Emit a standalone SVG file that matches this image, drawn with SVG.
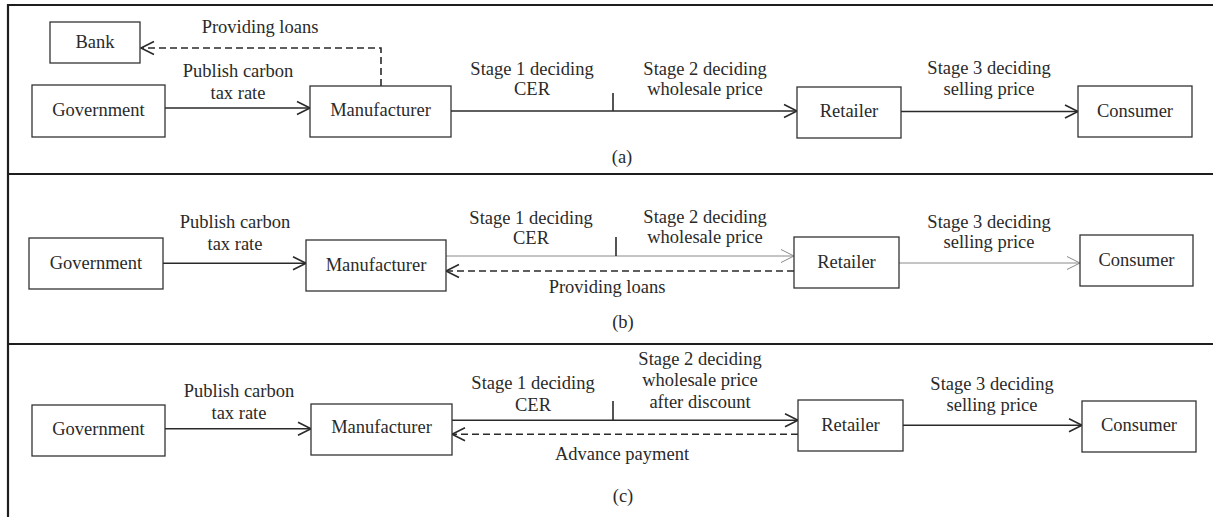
<svg xmlns="http://www.w3.org/2000/svg" width="1213" height="517" viewBox="0 0 1213 517">
<style>
text{font-family:"Liberation Serif","Times New Roman",serif;font-size:18.5px;fill:#2a2a2a;text-anchor:middle}
.box{fill:#fff;stroke:#333;stroke-width:1.3}
.frame{stroke:#1e1e1e;stroke-width:2.2;fill:none}
.arr{stroke:#2a2a2a;stroke-width:1.6;fill:none;marker-end:url(#ah)}
.thin{stroke:#8a8a8a;stroke-width:1;fill:none;marker-end:url(#aht)}
.dash{stroke:#2a2a2a;stroke-width:1.6;fill:none;stroke-dasharray:7 4;marker-end:url(#ah)}
.tick{stroke:#2a2a2a;stroke-width:1.6}
</style>
<defs>
<marker id="ah" markerUnits="userSpaceOnUse" markerWidth="16" markerHeight="16" refX="13" refY="7" orient="auto" overflow="visible">
<path d="M0,0.5 L13,7 L0,13.5" fill="none" stroke="#2a2a2a" stroke-width="1.6"/>
</marker>
<marker id="aht" markerUnits="userSpaceOnUse" markerWidth="16" markerHeight="16" refX="13" refY="7" orient="auto" overflow="visible">
<path d="M0,0.5 L13,7 L0,13.5" fill="none" stroke="#8a8a8a" stroke-width="1"/>
</marker>
</defs>
<g id="frame">
<line class="frame" x1="8" y1="5" x2="1213" y2="5"/>
<line class="frame" x1="8" y1="174" x2="1213" y2="174"/>
<line class="frame" x1="8" y1="344" x2="1213" y2="344"/>
<line class="frame" x1="8" y1="4" x2="8" y2="517"/>
</g>
<g id="connectors">
<!-- panel a -->
<line class="arr" x1="165" y1="108" x2="310" y2="108"/>
<line class="arr" x1="451" y1="111" x2="797" y2="111"/>
<line class="tick" x1="613" y1="93" x2="613" y2="111"/>
<line class="arr" x1="901" y1="111.5" x2="1078" y2="111.5"/>
<path class="dash" d="M381,86 V48 H141"/>
<!-- panel b -->
<line class="arr" x1="163" y1="263.3" x2="306" y2="263.3"/>
<line class="thin" x1="446" y1="256" x2="794" y2="256"/>
<line class="tick" x1="616" y1="237" x2="616" y2="256"/>
<line class="dash" x1="794" y1="271" x2="446" y2="271"/>
<line class="thin" x1="899" y1="263" x2="1080" y2="263"/>
<!-- panel c -->
<line class="arr" x1="165" y1="428.7" x2="311" y2="428.7"/>
<line class="arr" x1="452" y1="420.3" x2="798" y2="420.3"/>
<line class="tick" x1="613" y1="401" x2="613" y2="420.3"/>
<line class="dash" x1="798" y1="434.3" x2="452" y2="434.3"/>
<line class="arr" x1="903" y1="425.3" x2="1082" y2="425.3"/>
</g>
<g id="labels">
<text x="260" y="33">Providing loans</text>
<text x="238" y="77">Publish carbon</text>
<text x="238" y="99">tax rate</text>
<text x="532" y="75">Stage 1 deciding</text>
<text x="532" y="95">CER</text>
<text x="705" y="75">Stage 2 deciding</text>
<text x="705" y="95">wholesale price</text>
<text x="989" y="74">Stage 3 deciding</text>
<text x="989" y="94.5">selling price</text>
<text x="622" y="163">(a)</text>

<text x="235" y="228.3">Publish carbon</text>
<text x="235" y="250">tax rate</text>
<text x="531" y="224">Stage 1 deciding</text>
<text x="531" y="244">CER</text>
<text x="705" y="223">Stage 2 deciding</text>
<text x="705" y="243">wholesale price</text>
<text x="989" y="228">Stage 3 deciding</text>
<text x="989" y="248">selling price</text>
<text x="607" y="293">Providing loans</text>
<text x="623" y="328">(b)</text>

<text x="239" y="397">Publish carbon</text>
<text x="239" y="418.7">tax rate</text>
<text x="533" y="388.7">Stage 1 deciding</text>
<text x="533" y="410.5">CER</text>
<text x="700" y="365.3">Stage 2 deciding</text>
<text x="700" y="386.3">wholesale price</text>
<text x="700" y="408">after discount</text>
<text x="992" y="390">Stage 3 deciding</text>
<text x="992" y="411">selling price</text>
<text x="622" y="460">Advance payment</text>
<text x="623" y="502">(c)</text>
</g>
<g id="bank_a"><rect class="box" x="50" y="22" width="90" height="41"/><text x="95" y="48">Bank</text></g>
<g id="government_a"><rect class="box" x="32" y="85" width="133" height="52"/><text x="98.5" y="116">Government</text></g>
<g id="manufacturer_a"><rect class="box" x="310" y="86" width="141" height="51"/><text x="380.5" y="116">Manufacturer</text></g>
<g id="retailer_a"><rect class="box" x="797" y="87" width="104" height="51"/><text x="849" y="117">Retailer</text></g>
<g id="consumer_a"><rect class="box" x="1078" y="86" width="114" height="51"/><text x="1135" y="116.5">Consumer</text></g>

<g id="government_b"><rect class="box" x="29" y="238" width="134" height="51"/><text x="96" y="269">Government</text></g>
<g id="manufacturer_b"><rect class="box" x="306" y="240" width="140" height="51"/><text x="376" y="270.5">Manufacturer</text></g>
<g id="retailer_b"><rect class="box" x="794" y="237" width="105" height="51"/><text x="846.5" y="267.5">Retailer</text></g>
<g id="consumer_b"><rect class="box" x="1080" y="235" width="113" height="51"/><text x="1136.5" y="265.5">Consumer</text></g>

<g id="government_c"><rect class="box" x="32" y="405" width="133" height="51"/><text x="98.5" y="434.5">Government</text></g>
<g id="manufacturer_c"><rect class="box" x="311" y="404" width="141" height="51"/><text x="381.5" y="433">Manufacturer</text></g>
<g id="retailer_c"><rect class="box" x="798" y="400" width="105" height="51"/><text x="850.5" y="430.5">Retailer</text></g>
<g id="consumer_c"><rect class="box" x="1082" y="401" width="114" height="51"/><text x="1139" y="431">Consumer</text></g>
</svg>
